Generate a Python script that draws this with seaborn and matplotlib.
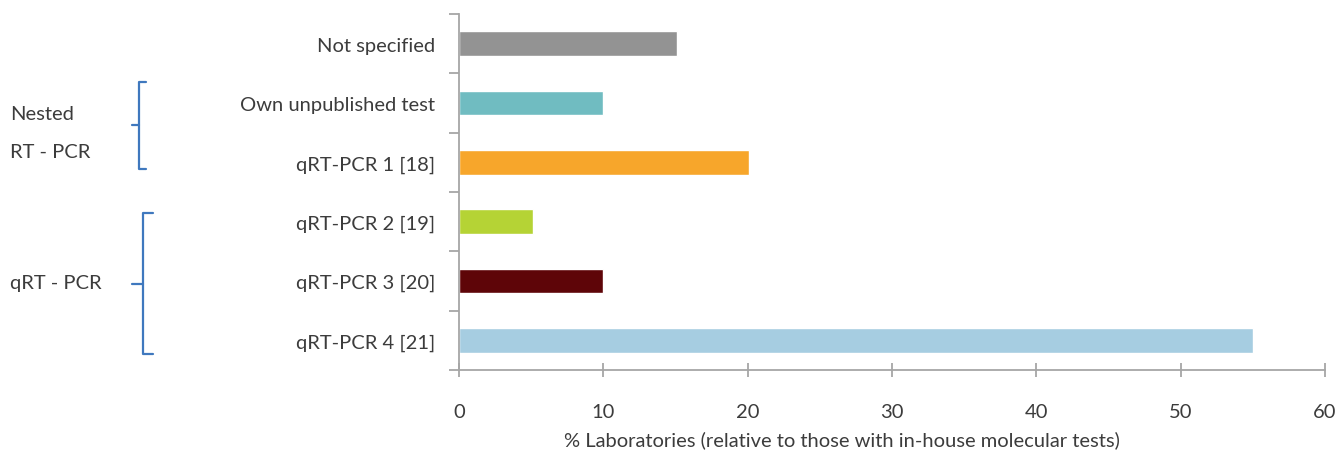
import matplotlib
matplotlib.use("Agg")
import matplotlib.pyplot as plt
import seaborn as sns
import pandas as pd
import numpy as np
from matplotlib.lines import Line2D

categories = ["Not specified", "Own unpublished test", "qRT-PCR 1 [18]",
              "qRT-PCR 2 [19]", "qRT-PCR 3 [20]", "qRT-PCR 4 [21]"]
values = [15.1, 10.0, 20.1, 5.1, 10.0, 55.0]
colors = ["#939393", "#70BCC1", "#F7A62B", "#B5D335", "#5E0508", "#A6CDE1"]
xticks = [0, 10, 20, 30, 40, 50, 60]
xlabel = "% Laboratories (relative to those with in-house molecular tests)"
group_labels = ["Nested", "RT - PCR", "qRT - PCR"]

sns.set_theme(style="white")
plt.rcParams['font.family'] = ['Lato', 'DejaVu Sans']
text_color = "#3C3C3C"
spine_color = "#A6A6A6"
fs = 14.5

W, H = 1335, 452
fig = plt.figure(figsize=(W / 100, H / 100), dpi=100)
ax = fig.add_axes([459 / W, 1 - 371 / H, (1325 - 459) / W, (371 - 15) / H])

df = pd.DataFrame({"cat": categories, "val": values})
sns.barplot(data=df, y="cat", x="val", hue="cat", palette=colors, orient="h",
            width=0.42, legend=False, ax=ax, saturation=1)

ax.set_xlim(0, 60)
ax.set_ylim(len(categories) - 0.5, -0.5)
ax.set_xticks(xticks)
ax.set_xticklabels([str(t) for t in xticks], fontsize=fs, color=text_color)
ax.set_xlabel(xlabel, fontsize=fs, color=text_color)
ax.xaxis.label.set_va("center")
ax.xaxis.set_label_coords((842 - 459) / (1325 - 459), -(440 - 371) / (371 - 15))
ax.set_ylabel("")
ax.set_yticks(range(len(categories)))
ax.set_yticklabels(categories, fontsize=fs, color=text_color)
ax.tick_params(axis="y", which="major", left=True, length=0, pad=17)
ax.set_yticks(np.arange(-0.5, len(categories), 1.0), minor=True)
ax.tick_params(axis="y", which="minor", left=True, length=7, width=1.3,
               color=spine_color, direction="out")
ax.tick_params(axis="x", which="major", bottom=True, length=10, width=1.3,
               color=spine_color, direction="inout", pad=19)

for s in ["top", "right"]:
    ax.spines[s].set_visible(False)
for s in ["left", "bottom"]:
    ax.spines[s].set_color(spine_color)
    ax.spines[s].set_linewidth(1.3)

bcol = "#3F78BE"

def bracket(x_vert, y_top, y_bot, x_end, x_tip, y_tip):
    pts = [(x_end, y_top), (x_vert, y_top), (x_vert, y_bot), (x_end, y_bot)]
    xs = [p[0] / W for p in pts]
    ys = [1 - p[1] / H for p in pts]
    fig.add_artist(Line2D(xs, ys, color=bcol, lw=1.6, transform=fig.transFigure))
    fig.add_artist(Line2D([x_tip / W, x_vert / W], [1 - y_tip / H, 1 - y_tip / H],
                          color=bcol, lw=1.6, transform=fig.transFigure))

bracket(138.5, 82.5, 170, 145.5, 131.5, 126)
bracket(143, 214, 355, 153, 132, 284.5)

fig.text(10 / W, 1 - 114 / H, group_labels[0], fontsize=fs, color=text_color,
         ha="left", va="center")
fig.text(10 / W, 1 - 152 / H, group_labels[1], fontsize=fs, color=text_color,
         ha="left", va="center")
fig.text(10 / W, 1 - 283 / H, group_labels[2], fontsize=fs, color=text_color,
         ha="left", va="center")

fig.savefig("out.png", dpi=100)
